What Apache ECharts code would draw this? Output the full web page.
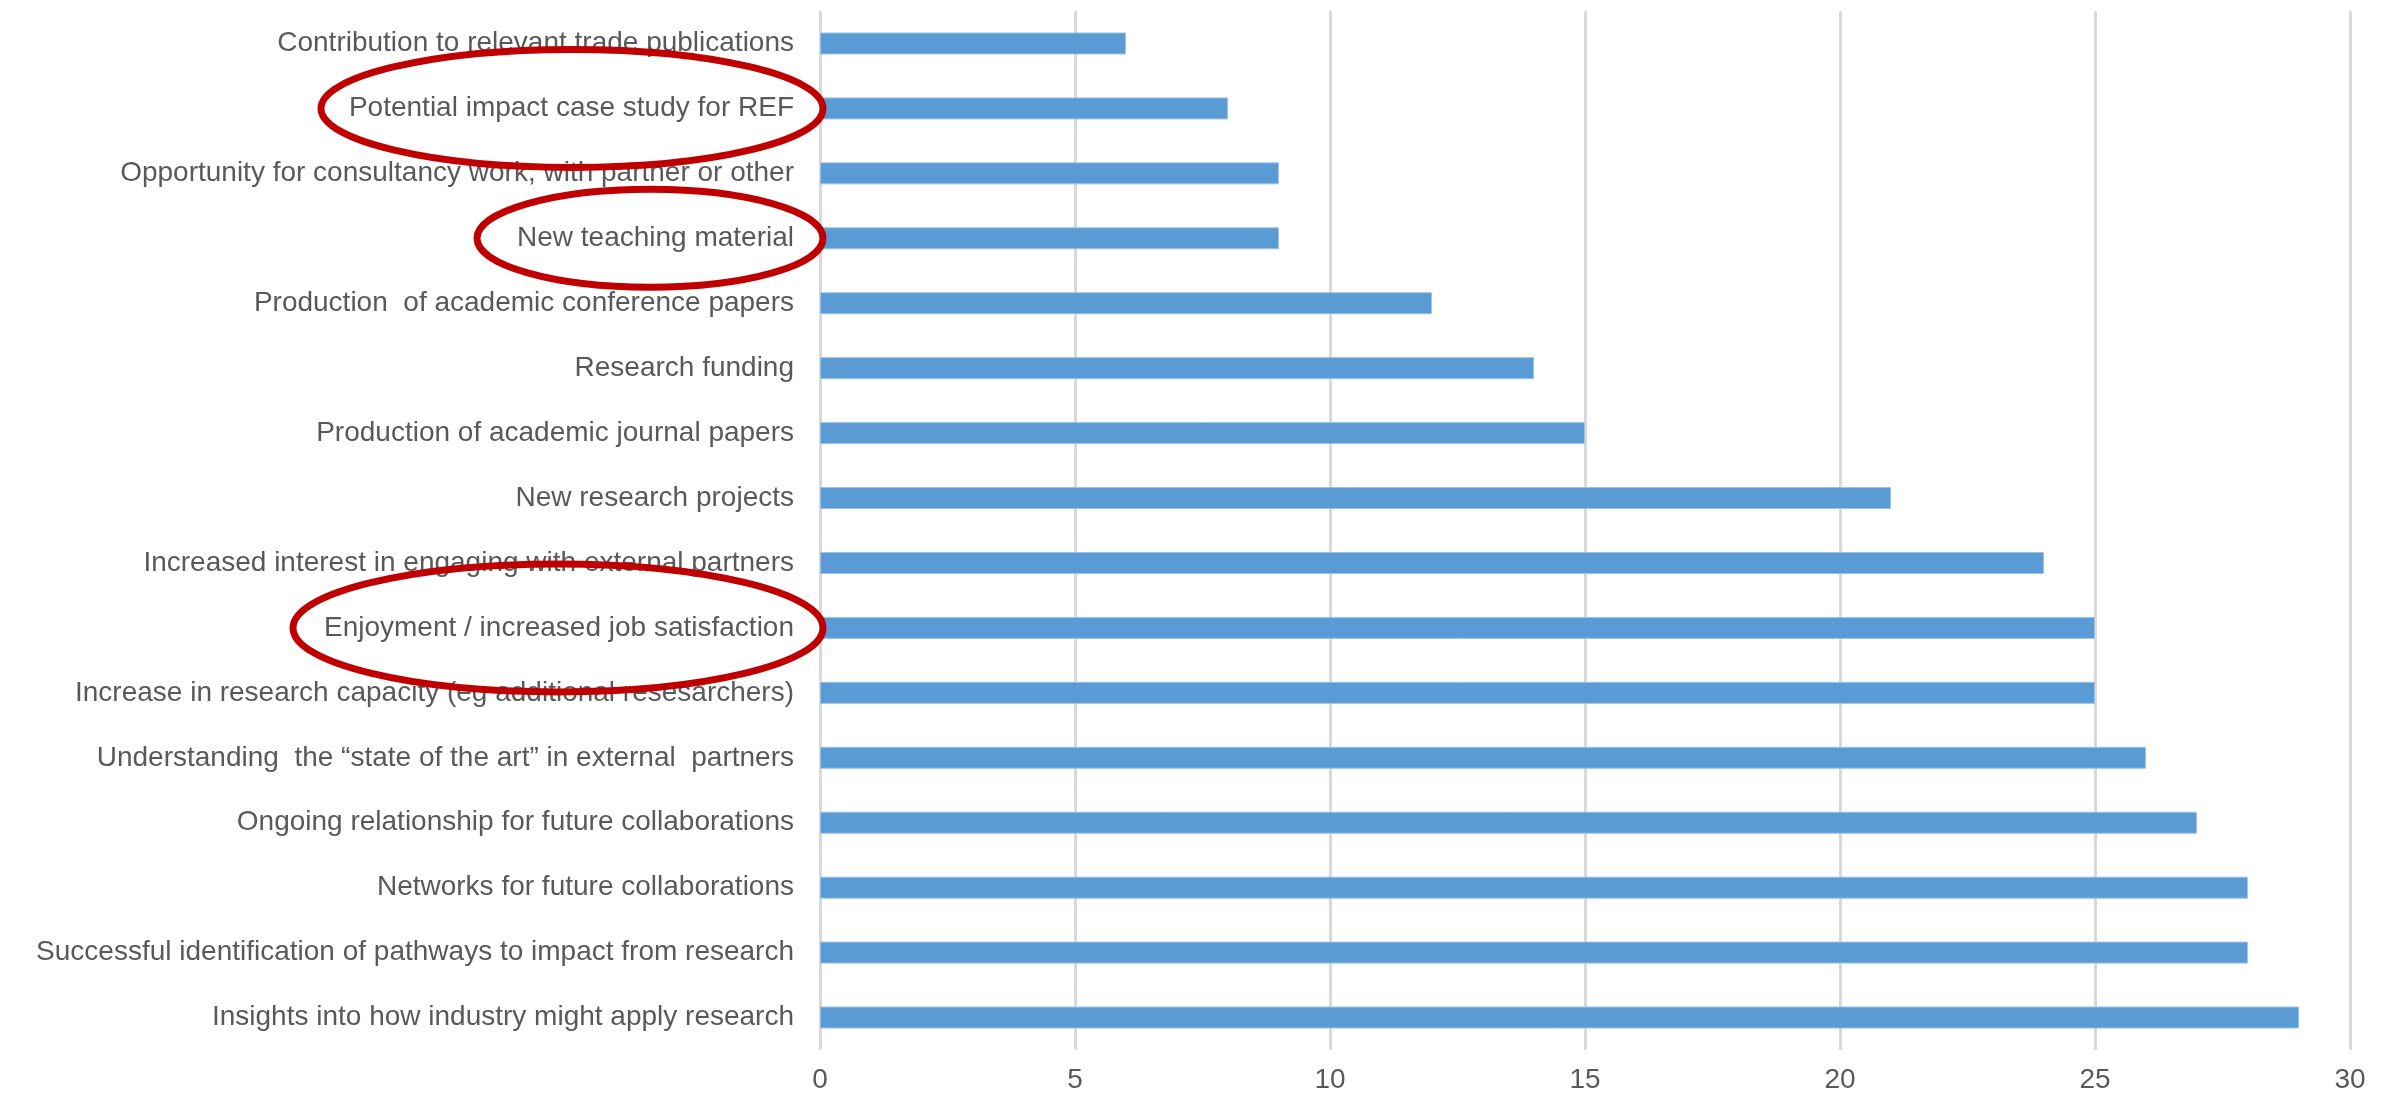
<!DOCTYPE html>
<html>
<head>
<meta charset="utf-8">
<script src="https://cdn.jsdelivr.net/npm/echarts@6/dist/echarts.min.js"></script>
<style>
  html, body { margin: 0; padding: 0; background: #fff; }
  #chart { width: 2394px; height: 1102px; }
</style>
</head>
<body>
<div id="chart"></div>
<script>
  // categories from bottom to top
  const categories = [
    'Insights into how industry might apply research',
    'Successful identification of pathways to impact from research',
    'Networks for future collaborations',
    'Ongoing relationship for future collaborations',
    'Understanding  the \u201cstate of the art\u201d in external  partners',
    'Increase in research capacity (eg additional resesarchers)',
    'Enjoyment / increased job satisfaction',
    'Increased interest in engaging with external partners',
    'New research projects',
    'Production of academic journal papers',
    'Research funding',
    'Production  of academic conference papers',
    'New teaching material',
    'Opportunity for consultancy work, with partner or other',
    'Potential impact case study for REF',
    'Contribution to relevant trade publications',
  ];
  const counts = [29, 28, 28, 27, 26, 25, 25, 24, 21, 15, 14, 12, 9, 9, 8, 6];
  const xTicks = [0, 5, 10, 15, 20, 25, 30];

  // highlighted labels and half-size of the red ring around each
  const circled = ['Potential impact case study for REF', 'New teaching material', 'Enjoyment / increased job satisfaction'];
  const ringRx = [251, 173, 265];
  const ringRy = [59, 49, 64];

  const gridLeft = 820;
  const chart = echarts.init(document.getElementById('chart'));

  const option = {
    animation: false,
    textStyle: { fontFamily: '"Liberation Sans", Arial, sans-serif' },
    grid: { left: gridLeft, right: 44, top: 11, bottom: 52, containLabel: false },
    xAxis: {
      type: 'value',
      min: xTicks[0],
      max: xTicks[xTicks.length - 1],
      interval: 5,
      axisLine: { show: false },
      axisTick: { show: false },
      axisLabel: { color: '#595959', fontSize: 28, margin: 16 },
      splitLine: { show: true, lineStyle: { color: '#d9d9d9', width: 3 } },
    },
    yAxis: {
      type: 'category',
      data: categories,
      axisLine: { show: false },
      axisTick: { show: false },
      axisLabel: { color: '#595959', fontSize: 28, margin: 26 },
      splitLine: { show: false },
    },
    series: [
      {
        type: 'bar',
        data: counts,
        barWidth: 22,
        itemStyle: { color: '#5b9bd5', borderColor: '#9dc3e6', borderWidth: 1 },
      },
    ],
  };
  chart.setOption(option);

  // red rings drawn over the label area, placed from the category axis
  const rings = circled.map((name, i) => {
    const cy = chart.convertToPixel({ yAxisIndex: 0 }, name);
    return {
      type: 'ellipse',
      shape: { cx: gridLeft + 3 - ringRx[i], cy: cy, rx: ringRx[i], ry: ringRy[i] },
      style: { fill: 'none', stroke: '#c00000', lineWidth: 7 },
      z: 100,
    };
  });
  chart.setOption({ graphic: rings });
</script>
</body>
</html>
